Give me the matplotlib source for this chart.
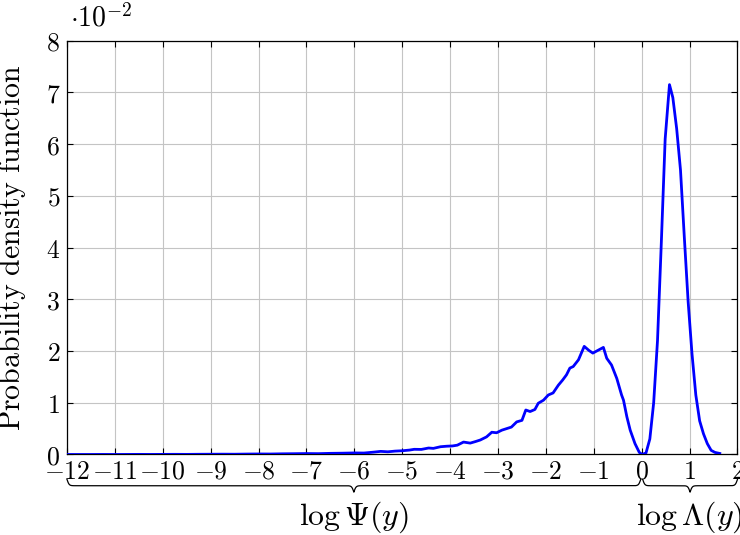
import numpy as np
import matplotlib
matplotlib.use("Agg")
import matplotlib.pyplot as plt

plt.rcParams['mathtext.fontset'] = 'cm'
plt.rcParams['font.family'] = ['DejaVu Serif']

# log-value axis (x) and probability density in units of 1e-2 (y)
log_y = [-12.0, -11.75, -11.5, -11.25, -11.0, -10.75, -10.5, -10.25, -10.0, -9.75,
         -9.5, -9.25, -9.0, -8.75, -8.5, -8.25, -8.0, -7.75, -7.5, -7.25,
         -7.0, -6.75, -6.5, -6.25, -6.0, -5.8, -5.6, -5.45, -5.3, -5.15,
         -5.0, -4.85, -4.75, -4.6, -4.45, -4.35, -4.2, -4.07, -3.95, -3.85,
         -3.72, -3.58, -3.47, -3.37, -3.24, -3.13, -3.03, -2.92, -2.82, -2.72,
         -2.61, -2.50, -2.42, -2.33, -2.23, -2.16, -2.05, -1.95, -1.85, -1.74,
         -1.65, -1.57, -1.50, -1.43, -1.32, -1.20, -1.10, -1.02, -0.90, -0.80,
         -0.73, -0.63, -0.52, -0.42, -0.38, -0.31, -0.24, -0.14, -0.05, 0.01,
         0.09, 0.17, 0.25, 0.33, 0.41, 0.49, 0.58, 0.65, 0.73, 0.81,
         0.89, 0.97, 1.05, 1.13, 1.21, 1.29, 1.37, 1.45, 1.53, 1.63]
pdf_e2 = [0.000, 0.000, 0.000, 0.001, 0.000, 0.001, 0.002, 0.001, 0.002, 0.003,
          0.002, 0.004, 0.005, 0.006, 0.005, 0.008, 0.010, 0.009, 0.013, 0.015,
          0.018, 0.016, 0.022, 0.025, 0.030, 0.028, 0.045, 0.060, 0.052, 0.065,
          0.072, 0.085, 0.100, 0.098, 0.125, 0.118, 0.150, 0.160, 0.165, 0.180,
          0.240, 0.220, 0.250, 0.280, 0.340, 0.430, 0.420, 0.470, 0.500, 0.530,
          0.630, 0.660, 0.860, 0.830, 0.870, 0.990, 1.050, 1.150, 1.190, 1.340,
          1.440, 1.540, 1.670, 1.700, 1.830, 2.090, 2.010, 1.960, 2.020, 2.070,
          1.860, 1.730, 1.470, 1.150, 1.050, 0.730, 0.470, 0.210, 0.040, 0.000,
          0.030, 0.300, 1.000, 2.200, 4.100, 6.100, 7.150, 6.900, 6.300, 5.500,
          4.200, 2.950, 1.950, 1.150, 0.650, 0.400, 0.210, 0.080, 0.040, 0.020]

x_ticks = list(range(-12, 3))
y_ticks = list(range(0, 9))

fig = plt.figure(figsize=(7.4, 5.35), dpi=100)
ax = fig.add_axes([0.0905, 0.1505, 0.9061, 0.7735])

ax.plot(log_y, pdf_e2, color='#0000ff', linewidth=2.0, zorder=3)

ax.set_xlim(-12, 2)
ax.set_ylim(0, 8)
ax.set_xticks(x_ticks)
ax.set_xticklabels([r'$%d$' % v if v >= 0 else r'$-%d$' % (-v) for v in x_ticks])
ax.set_yticks(y_ticks)
ax.set_yticklabels([r'$%d$' % v for v in y_ticks])
ax.tick_params(axis='both', which='major', direction='in', length=4, width=0.8,
               labelsize=18.5, top=True, right=True, pad=3)
ax.tick_params(axis='y', pad=5)
ax.grid(True, color='#c4c4c4', linewidth=0.8)
ax.set_axisbelow(True)
for s in ax.spines.values():
    s.set_linewidth(0.9)
    s.set_color('black')

ax.set_ylabel(r'$\mathrm{Probability\ density\ function}$', fontsize=21.5)
ax.yaxis.set_label_coords(-0.058, 0.5)

fig.text(70 / 740, 1 - 18 / 535, r'$\cdot 10^{-2}$', fontsize=20, ha='left', va='center')

# curly braces under the x-axis
trans = ax.get_xaxis_transform()


def brace(x0, x1, ytop, h, beta):
    n = 2001
    xs = np.linspace(x0, x1, n)
    half = xs[: n // 2 + 1]
    yh = 1 / (1 + np.exp(-beta * (half - half[0]))) + 1 / (1 + np.exp(-beta * (half - half[-1])))
    yv = np.concatenate((yh, yh[-2::-1]))
    ys = ytop - h * (yv - 0.5)
    ax.plot(xs, ys, color='black', linewidth=0.9, transform=trans, clip_on=False)


brace(-12, -0.02, -0.060, 0.031, 45)
brace(0.02, 2.0, -0.060, 0.031, 45)

ax.text(-6, -0.152, r'$\log\Psi(y)$', transform=trans, ha='center', va='center', fontsize=23)
ax.text(1.0, -0.152, r'$\log\Lambda(y)$', transform=trans, ha='center', va='center', fontsize=23)

fig.savefig('out.png', dpi=100)
